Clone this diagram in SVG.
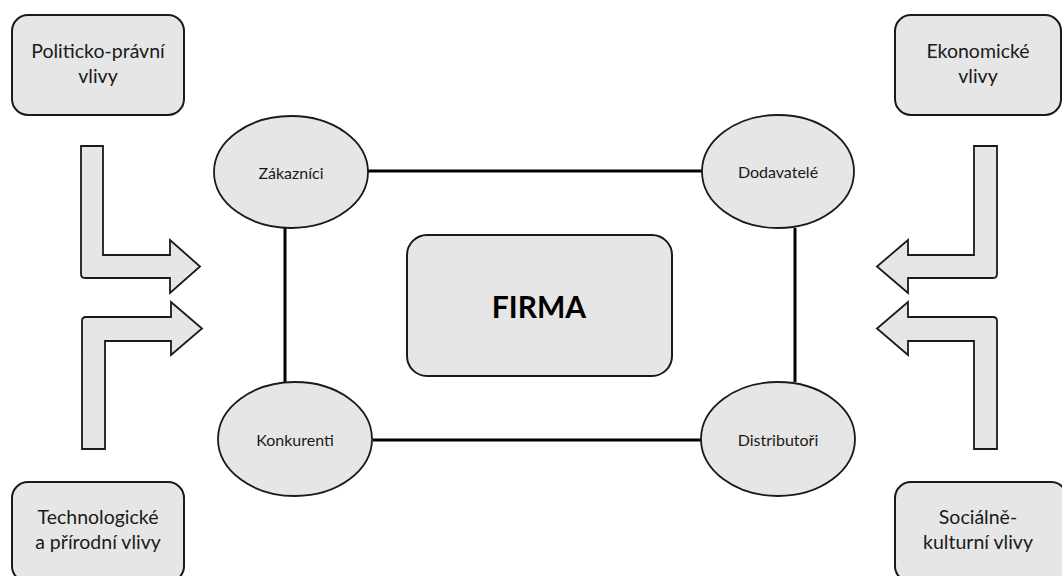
<svg xmlns="http://www.w3.org/2000/svg" width="1062" height="576" viewBox="0 0 1062 576">
  <style>
    .box { fill: #e6e6e6; stroke: #1a1a1a; stroke-width: 2; }
    .oval { fill: #e6e6e6; stroke: #1a1a1a; stroke-width: 1.8; }
    .arrow { fill: #e6e6e6; stroke: #1a1a1a; stroke-width: 1.8; stroke-linejoin: miter; }
    .link { stroke: #000; stroke-width: 3; fill: none; }
    .t { font-family: Lato, "Open Sans", "Liberation Sans", sans-serif; fill: #1a1a1a; text-anchor: middle; }
    .tb { font-size: 19.5px; }
    .to { font-size: 16px; }
    .tf { font-size: 30px; font-weight: bold; fill: #000; }
  </style>
  <rect width="1062" height="576" fill="#fff"/>

  <!-- connectors between the four partner ellipses -->
  <g id="connectors">
    <line class="link" x1="367" y1="171" x2="702" y2="171"/>
    <line class="link" x1="373" y1="440" x2="701" y2="440"/>
    <line class="link" x1="285" y1="228" x2="285" y2="382"/>
    <line class="link" x1="795" y1="228" x2="795" y2="382"/>
  </g>

  <!-- bent arrows carrying outside influences -->
  <g id="arrow-tl"><path class="arrow" d="M81,146 H103 V255 H170 V240 L200,266.5 L170,293 V278 H85 Q81,278 81,274 Z"/></g>
  <g id="arrow-bl"><path class="arrow" d="M82,449 V321 Q82,317 86,317 H171 V302 L202,328.5 L171,355 V341 H105 V449 Z"/></g>
  <g id="arrow-tr"><path class="arrow" d="M997,146 H974 V255 H908 V240 L877,266.5 L908,293 V278 H993 Q997,278 997,274 Z"/></g>
  <g id="arrow-br"><path class="arrow" d="M997,449 V321 Q997,317 993,317 H908 V302 L877,328.5 L908,355 V341 H974 V449 Z"/></g>

  <!-- influence boxes -->
  <g id="politicko-pravni">
    <rect class="box" x="12" y="15" width="172" height="100" rx="16"/>
    <text class="t tb" x="98" y="58">Politicko-právní</text>
    <text class="t tb" x="98" y="83">vlivy</text>
  </g>
  <g id="ekonomicke">
    <rect class="box" x="895" y="15" width="166" height="100" rx="16"/>
    <text class="t tb" x="978" y="58">Ekonomické</text>
    <text class="t tb" x="978" y="83">vlivy</text>
  </g>
  <g id="technologicke">
    <rect class="box" x="12" y="482" width="172" height="100" rx="16"/>
    <text class="t tb" x="98" y="524">Technologické</text>
    <text class="t tb" x="98" y="549">a přírodní vlivy</text>
  </g>
  <g id="socialne-kulturni">
    <rect class="box" x="895" y="482" width="172" height="100" rx="16"/>
    <text class="t tb" x="978" y="524">Sociálně-</text>
    <text class="t tb" x="978" y="549">kulturní vlivy</text>
  </g>

  <!-- partner ellipses -->
  <g id="zakaznici">
    <ellipse class="oval" cx="291" cy="172" rx="77" ry="56"/>
    <text class="t to" x="291" y="179">Zákazníci</text>
  </g>
  <g id="dodavatele">
    <ellipse class="oval" cx="778" cy="171.5" rx="76" ry="56.5"/>
    <text class="t to" x="778" y="178">Dodavatelé</text>
  </g>
  <g id="konkurenti">
    <ellipse class="oval" cx="295" cy="439" rx="77" ry="57"/>
    <text class="t to" x="295" y="446">Konkurenti</text>
  </g>
  <g id="distributori">
    <ellipse class="oval" cx="778" cy="439" rx="77" ry="57"/>
    <text class="t to" x="778" y="446">Distributoři</text>
  </g>

  <!-- the firm at the centre -->
  <g id="firma">
    <rect class="box" x="407" y="235" width="265" height="141" rx="20"/>
    <text class="t tf" x="539" y="318">FIRMA</text>
  </g>
</svg>
